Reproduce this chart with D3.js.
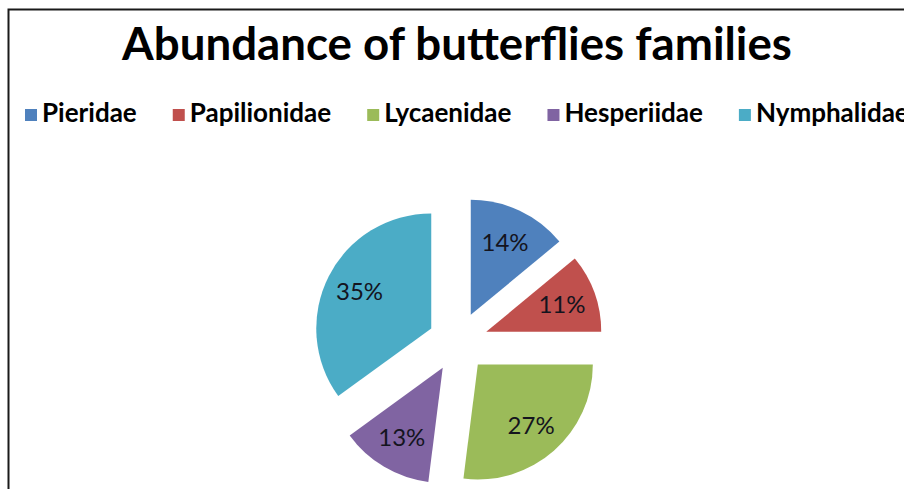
<!DOCTYPE html>
<html>
<head>
<meta charset="utf-8">
<script src="https://cdn.jsdelivr.net/npm/d3@7/dist/d3.min.js"></script>
<style>
  body { margin: 0; background: #fff; }
  svg { display: block; }
</style>
</head>
<body>
<svg id="chart" width="904" height="489"></svg>
<script>
// data
var families = ["Pieridae", "Papilionidae", "Lycaenidae", "Hesperiidae", "Nymphalidae"];
var shares = [14, 11, 27, 13, 35];
var colors = ["#4F81BD", "#C0504D", "#9BBB59", "#8064A2", "#4BACC6"];
var title = "Abundance of butterflies families";

var svg = d3.select("#chart");
var W = 904, H = 489;

svg.append("rect").attr("width", W).attr("height", H).attr("fill", "#fff");

// chart frame (only left and top edges are visible in the crop)
svg.append("path")
    .attr("d", "M8.5," + (H + 5) + "V9.5H" + (W + 5))
    .attr("fill", "none")
    .attr("stroke", "#1a1a1a")
    .attr("stroke-width", 2);

// title, sized to the width in the picture
var t = svg.append("text")
    .attr("x", 457)
    .attr("y", 60)
    .attr("text-anchor", "middle")
    .attr("font-family", "Lato, 'Open Sans', sans-serif")
    .attr("font-weight", "bold")
    .attr("font-size", 40)
    .attr("fill", "#000")
    .text(title);
var tw = t.node().getComputedTextLength();
t.attr("font-size", 40 * 670 / tw);

// legend, laid out item after item
var legend = svg.append("g").attr("font-family", "Lato, 'Open Sans', sans-serif")
    .attr("font-weight", "bold");
var probe = legend.append("text").attr("font-size", 20);
var total = 0;
families.forEach(function(f) { probe.text(f); total += probe.node().getComputedTextLength(); });
probe.remove();
var legendFont = 20 * 655 / total;

var lx = 25;
families.forEach(function(f, i) {
    var g = legend.append("g").attr("transform", "translate(" + lx + ",0)");
    g.append("rect").attr("x", 0).attr("y", 109).attr("width", 12).attr("height", 12)
        .attr("fill", colors[i]);
    var txt = g.append("text").attr("x", 17).attr("y", 122)
        .attr("font-size", legendFont).attr("fill", "#000").text(f);
    lx += 17 + txt.node().getComputedTextLength() + 36;
});

// exploded pie
var cx = 458, cy = 342, r = 115, explode = 30;
var pie = d3.pie().sort(null).value(function(d) { return d; });
var arc = d3.arc().innerRadius(0).outerRadius(r);
var arcs = pie(shares);

var pieG = svg.append("g").attr("transform", "translate(" + cx + "," + cy + ")");

var slices = pieG.selectAll("g.slice").data(arcs).enter().append("g")
    .attr("class", "slice")
    .attr("transform", function(d) {
        var a = (d.startAngle + d.endAngle) / 2;
        return "translate(" + (explode * Math.sin(a)) + "," + (-explode * Math.cos(a)) + ")";
    });

slices.append("path")
    .attr("d", arc)
    .attr("fill", function(d, i) { return colors[i]; });

var labelArc = d3.arc().innerRadius(r * 0.7).outerRadius(r * 0.7);
slices.append("text")
    .attr("transform", function(d) { return "translate(" + labelArc.centroid(d) + ")"; })
    .attr("text-anchor", "middle")
    .attr("dy", "0.36em")
    .attr("font-family", "Lato, 'Open Sans', sans-serif")
    .attr("font-size", 24)
    .attr("fill", "#14141e")
    .text(function(d) { return d.data + "%"; });
</script>
</body>
</html>
